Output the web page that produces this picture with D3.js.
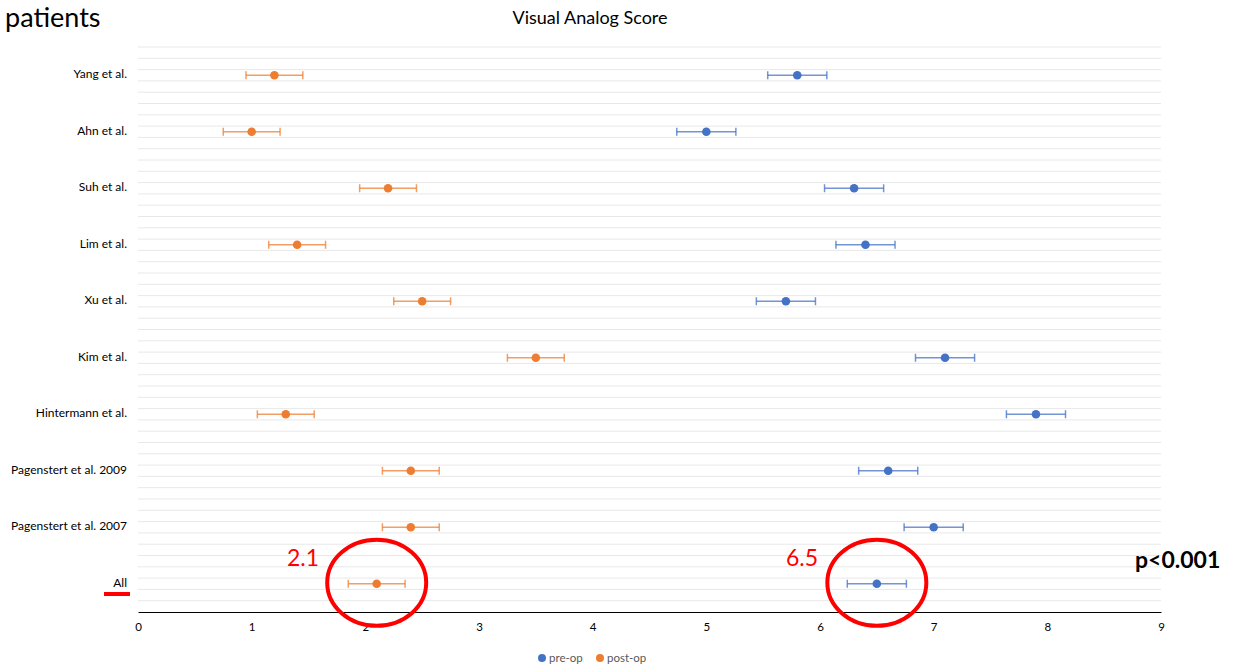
<!DOCTYPE html>
<html><head><meta charset="utf-8">
<script src="https://cdn.jsdelivr.net/npm/d3@7"></script>
<style>body{margin:0;background:#fff}svg{display:block}</style>
</head><body>
<script>
const categories = ["Yang et al.","Ahn et al.","Suh et al.","Lim et al.","Xu et al.","Kim et al.","Hintermann et al.","Pagenstert et al. 2009","Pagenstert et al. 2007","All"];
const preOp  = [5.8, 5.0, 6.3, 6.4, 5.7, 7.1, 7.9, 6.6, 7.0, 6.5];
const postOp = [1.2, 1.0, 2.2, 1.4, 2.5, 3.5, 1.3, 2.4, 2.4, 2.1];
const errPre  = [0.26,0.26,0.26,0.26,0.26,0.26,0.26,0.26,0.26,0.26];
const errPost = [0.25,0.25,0.25,0.25,0.25,0.25,0.25,0.25,0.25,0.25];
const xTicks = [0,1,2,3,4,5,6,7,8,9];
const seriesNames = ["pre-op","post-op"];
const colors = ["#4472C4","#ED7D31"];

const W=1235,H=669;
const svg=d3.select("body").append("svg").attr("width",W).attr("height",H);
const font="Lato, 'Open Sans', sans-serif";
const x=d3.scaleLinear().domain([0,9]).range([138,1161]);
const y=d3.scaleLinear().domain([0,10]).range([612,47]);
const catY=i=>y(categories.length-0.5-i);

// gridlines
svg.append("g").selectAll("line").data(d3.range(1,51).map(k=>k*0.2)).join("line")
  .attr("x1",x(0)).attr("x2",x(9)).attr("y1",d=>y(d)).attr("y2",d=>y(d))
  .attr("stroke","#e8e8e8").attr("stroke-width",1);

// x axis
const ax=svg.append("g").attr("transform",`translate(0,${y(0)})`)
  .call(d3.axisBottom(x).tickValues(xTicks).tickSize(0).tickPadding(11).tickFormat(d3.format("d")));
ax.select(".domain").attr("stroke","#000").attr("stroke-width",1.2);
ax.selectAll("text").attr("font-family",font).attr("font-size",11.5).attr("fill","#000");

// category labels
svg.append("g").selectAll("text").data(categories).join("text")
  .attr("x",127).attr("y",(d,i)=>catY(i)-1).attr("dy","0.35em").attr("text-anchor","end")
  .attr("font-family",font).attr("font-size",12).attr("fill","#000")
  .text(d=>d);

function drawSeries(vals,errs,color){
  const g=svg.append("g");
  vals.forEach((v,i)=>{
    const cy=catY(i);
    const eb=g.append("g").attr("stroke",color).attr("stroke-width",1.5).attr("stroke-opacity",0.75);
    eb.append("line").attr("x1",x(v-errs[i])).attr("x2",x(v+errs[i])).attr("y1",cy).attr("y2",cy);
    eb.append("line").attr("x1",x(v-errs[i])).attr("x2",x(v-errs[i])).attr("y1",cy-4).attr("y2",cy+4);
    eb.append("line").attr("x1",x(v+errs[i])).attr("x2",x(v+errs[i])).attr("y1",cy-4).attr("y2",cy+4);
    g.append("circle").attr("cx",x(v)).attr("cy",cy).attr("r",4.3).attr("fill",color);
  });
}
drawSeries(preOp,errPre,colors[0]);
drawSeries(postOp,errPost,colors[1]);

// title
svg.append("text").attr("x",590).attr("y",24).attr("text-anchor","middle")
  .attr("font-family",font).attr("font-size",18).attr("fill","#000").text("Visual Analog Score");
svg.append("text").attr("x",5).attr("y",27).attr("font-family",font).attr("font-size",27).attr("fill","#000").text("patients");

// legend
const lg=svg.append("g").attr("font-family",font).attr("font-size",11.5).attr("fill","#595959");
[[542,0],[600,1]].forEach(([lx,k])=>{
  lg.append("circle").attr("cx",lx).attr("cy",658).attr("r",4).attr("fill",colors[k]);
  lg.append("text").attr("x",lx+7).attr("y",658).attr("dy","0.35em").text(seriesNames[k]);
});

// annotations
const last=categories.length-1;
[[postOp[last]],[preOp[last]]].forEach(([v])=>{
  svg.append("ellipse").attr("cx",x(v)).attr("cy",catY(last)-1).attr("rx",49.5).attr("ry",43)
    .attr("fill","none").attr("stroke","#FF0000").attr("stroke-width",4);
});
svg.append("text").attr("x",287).attr("y",566).attr("font-family",font).attr("font-size",23).attr("fill","#FF0000").text(postOp[last].toFixed(1));
svg.append("text").attr("x",786).attr("y",566).attr("font-family",font).attr("font-size",23).attr("fill","#FF0000").text(preOp[last].toFixed(1));
svg.append("text").attr("x",1135).attr("y",568).attr("font-family",font).attr("font-size",23).attr("font-weight","bold").attr("fill","#000").text("p<0.001");
svg.append("line").attr("x1",104).attr("x2",130).attr("y1",594).attr("y2",594).attr("stroke","#FF0000").attr("stroke-width",4);
</script>
</body></html>
